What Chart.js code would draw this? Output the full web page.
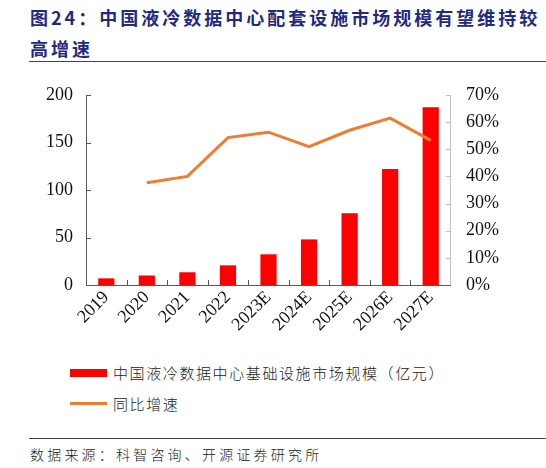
<!DOCTYPE html>
<html><head><meta charset="utf-8">
<script src="https://cdn.jsdelivr.net/npm/chart.js@4"></script>
<style>
html,body{margin:0;padding:0;background:#fff;}
body{width:546px;height:468px;position:relative;overflow:hidden;font-family:"Noto Sans CJK SC",sans-serif;}
#title{position:absolute;left:30px;top:2px;font-size:18px;font-weight:bold;color:#1f2a80;line-height:31px;letter-spacing:3px;white-space:nowrap;font-family:"Noto Sans CJK SC",serif;}
#rule1{position:absolute;left:29px;top:61px;width:517px;height:1px;background:#444;}
#wrap{position:absolute;left:0;top:80px;width:546px;height:265px;}
#legend{position:absolute;left:70px;top:357px;font-size:15px;font-weight:300;color:#222;letter-spacing:1.6px;}
.li{height:31px;display:flex;align-items:center;}
.sw{width:37px;margin-right:6px;}
#rule2{position:absolute;left:29px;top:438px;width:517px;height:1px;background:#444;}
#source{position:absolute;left:30px;top:444px;font-size:14px;font-weight:300;color:#222;letter-spacing:3.2px;white-space:nowrap;}
</style></head>
<body>
<div id="title">图24：中国液冷数据中心配套设施市场规模有望维持较<br>高增速</div>
<div id="rule1"></div>
<div id="wrap"><canvas id="c"></canvas></div>
<div id="legend"></div>
<div id="rule2"></div>
<div id="source">数据来源：科智咨询、开源证券研究所</div>
<script>
const categories = ["2019","2020","2021","2022","2023E","2024E","2025E","2026E","2027E"];
const marketSize = [7, 10, 13.4, 20.7, 32.3, 48, 75.5, 122, 187];
const growthRate = [null, 37.7, 40.0, 54.3, 56.3, 51.0, 57.0, 61.5, 53.3];
const leftTicks = [0, 50, 100, 150, 200];
const rightTicks = [0, 10, 20, 30, 40, 50, 60, 70];
const barLabel = "中国液冷数据中心基础设施市场规模（亿元）";
const lineLabel = "同比增速";

const tickFont = {family:"Liberation Serif", size:18};

const inwardTicks = {
  id:'inwardTicks',
  afterDraw(chart){
    const ctx = chart.ctx, a = chart.chartArea;
    const x = chart.scales.x, y = chart.scales.y, y2 = chart.scales.y2;
    ctx.save();
    ctx.lineWidth = 1;
    ctx.strokeStyle = '#595959';
    ctx.beginPath();
    ctx.moveTo(a.left+0.5, a.top); ctx.lineTo(a.left+0.5, a.bottom);
    leftTicks.forEach(v=>{const p=Math.round(y.getPixelForValue(v))+0.5; ctx.moveTo(a.left, p); ctx.lineTo(a.left+5, p);});
    ctx.stroke();
    ctx.strokeStyle = '#bfbfbf';
    ctx.beginPath();
    ctx.moveTo(a.right-0.5, a.top); ctx.lineTo(a.right-0.5, a.bottom);
    rightTicks.forEach(v=>{const p=Math.round(y2.getPixelForValue(v))+0.5; ctx.moveTo(a.right, p); ctx.lineTo(a.right-5, p);});
    ctx.stroke();
    ctx.strokeStyle = '#595959';
    ctx.beginPath();
    ctx.moveTo(a.left, a.bottom+0.5); ctx.lineTo(a.right, a.bottom+0.5);
    for (let i=1;i<categories.length;i++){
      const p = Math.round((x.getPixelForValue(i-1)+x.getPixelForValue(i))/2)+0.5;
      ctx.moveTo(p, a.bottom); ctx.lineTo(p, a.bottom-5);
    }
    ctx.stroke();
    ctx.restore();
  }
};

const chart = new Chart(document.getElementById('c'), {
  data:{
    labels: categories,
    datasets:[
      {type:'line', label:lineLabel, data:growthRate, yAxisID:'y2', borderColor:'#ED7D31', backgroundColor:'#ED7D31', borderWidth:3, pointRadius:0, tension:0, spanGaps:false, order:0},
      {type:'bar', label:barLabel, data:marketSize, yAxisID:'y', backgroundColor:'#FF0000', barPercentage:0.4, categoryPercentage:1, order:1}
    ]
  },
  options:{
    responsive:true, maintainAspectRatio:false, animation:false,
    layout:{padding:{top:15, left:0, right:0, bottom:0}},
    plugins:{legend:{display:false}, tooltip:{enabled:false}},
    scales:{
      x:{ticks:{font:tickFont, color:'#111', maxRotation:45, minRotation:45, padding:2}, grid:{display:false, drawTicks:false}, border:{display:false},
         afterFit(s){s.height=60; s.paddingLeft=0; s.paddingRight=0;}},
      y:{position:'left', min:0, max:200, afterBuildTicks(s){s.ticks=leftTicks.map(v=>({value:v}));},
         ticks:{font:tickFont, color:'#111', padding:13}, grid:{display:false, drawTicks:false}, border:{display:false},
         afterFit(s){s.width=86; s.paddingTop=0; s.paddingBottom=0;}},
      y2:{position:'right', min:0, max:70, afterBuildTicks(s){s.ticks=rightTicks.map(v=>({value:v}));},
         ticks:{font:tickFont, color:'#111', padding:15, callback:v=>v+'%'}, grid:{display:false, drawTicks:false}, border:{display:false},
         afterFit(s){s.width=95; s.paddingTop=0; s.paddingBottom=0;}}
    }
  },
  plugins:[inwardTicks]
});

const lg = document.getElementById('legend');
[1,0].forEach(i=>{
  const ds = chart.data.datasets[i];
  const row = document.createElement('div'); row.className='li';
  const sw = document.createElement('div'); sw.className='sw';
  if (ds.type==='bar'){sw.style.height='8px'; sw.style.background=ds.backgroundColor;}
  else {sw.style.height='3px'; sw.style.background=ds.borderColor;}
  const t = document.createElement('span'); t.textContent = ds.label;
  row.appendChild(sw); row.appendChild(t); lg.appendChild(row);
});
</script>
</body></html>
